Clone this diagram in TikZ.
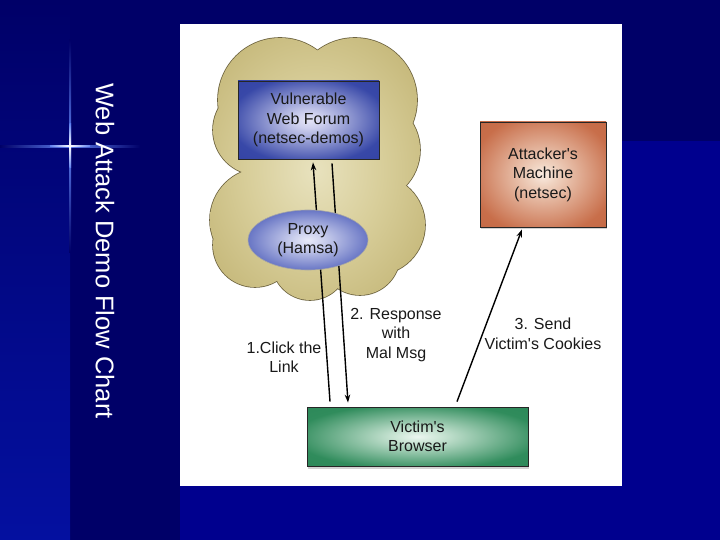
\documentclass[tikz,border=0pt]{standalone}
\usepackage{fontspec}
\setmainfont{Liberation Sans}
\usetikzlibrary{shapes.geometric,shadows,arrows.meta}
\definecolor{navy}{HTML}{000068}
\definecolor{navylow}{HTML}{00008E}
\definecolor{stripbot}{HTML}{0410A0}
\definecolor{glow}{HTML}{5F80F0}
\definecolor{cloudline}{HTML}{6E6440}
\pgfdeclareradialshading{cloudsh}{\pgfpoint{0bp}{0bp}}{color(0bp)=(rgb,255:red,232;green,226;blue,190); color(14bp)=(rgb,255:red,216;green,206;blue,154); color(30bp)=(rgb,255:red,194;green,180;blue,116); color(50bp)=(rgb,255:red,186;green,170;blue,104)}
\pgfdeclareradialshading{forumsh}{\pgfpoint{0bp}{0bp}}{color(0bp)=(rgb,255:red,228;green,228;blue,246); color(5bp)=(rgb,255:red,206;green,208;blue,238); color(28bp)=(rgb,255:red,56;green,72;blue,168); color(50bp)=(rgb,255:red,46;green,60;blue,160)}
\pgfdeclareradialshading{proxysh}{\pgfpoint{0bp}{0bp}}{color(0bp)=(rgb,255:red,232;green,234;blue,248); color(6bp)=(rgb,255:red,206;green,210;blue,238); color(30bp)=(rgb,255:red,78;green,94;blue,186); color(50bp)=(rgb,255:red,70;green,86;blue,180)}
\pgfdeclareradialshading{attsh}{\pgfpoint{0bp}{0bp}}{color(0bp)=(rgb,255:red,250;green,236;blue,226); color(5bp)=(rgb,255:red,240;green,212;blue,194); color(29bp)=(rgb,255:red,200;green,110;blue,74); color(50bp)=(rgb,255:red,190;green,98;blue,62)}
\pgfdeclareradialshading{leafsh}{\pgfpoint{0bp}{0bp}}{color(0bp)=(rgb,255:red,236;green,246;blue,240); color(5bp)=(rgb,255:red,204;green,230;blue,214); color(28bp)=(rgb,255:red,48;green,140;blue,92); color(50bp)=(rgb,255:red,38;green,130;blue,84)}
\def\cloudpuffs{280/100/62,355/100/62,368/150/52,375/225/50,262/220/52,258/130/45,255/245/42,310/262/38,360/255/40,315/180/70}

\begin{document}
\begin{tikzpicture}[x=1pt,y=-1pt,>={Stealth[length=8pt,width=5.5pt]},
  t/.style={font=\fontsize{16}{19.5}\selectfont,align=center,text=black!90},
  box/.style={t,draw=black!85,line width=0.8pt},
  shad/.style={drop shadow={opacity=0.35,shadow xshift=1pt,shadow yshift=-2.5pt}},
  a/.style={->,line width=1.4pt}]
\useasboundingbox (0,0) rectangle (720,540);
\fill[navy] (0,0) rectangle (720,540);
\shade[top color=navy,bottom color=stripbot] (0,0) rectangle (70,540);
\fill[navylow] (180,141) rectangle (720,540);
\shade[left color=navy,right color=navy,middle color=glow] (0,145.2) rectangle (140,147.2);
\shade[top color=navy,bottom color=navy,middle color=glow] (69.2,40) rectangle (71.2,252);
\shade[left color=glow,right color=glow,middle color=white] (50,145.4) rectangle (90,147);
\shade[top color=glow,bottom color=glow,middle color=white] (69.4,124) rectangle (71,168);
\node[rotate=-90,text=white,font=\fontsize{25.5}{30}\selectfont] (title) at (105,251) {Web Attack Demo Flow Chart};
\fill[white] (180,24) rectangle (622,486);

\foreach \cx/\cy/\r in \cloudpuffs
  \draw[cloudline,line width=1.6pt] (\cx,\cy) circle[radius=\r];
\begin{scope}
\clip \foreach \cx/\cy/\r in \cloudpuffs {(\cx,\cy) circle[radius=\r]};
\shade[shading=cloudsh] (195,25) rectangle (435,315);
\end{scope}

\node[box,shading=forumsh,minimum width=141pt,minimum height=78pt] (forum) at (308.5,120) {Vulnerable\\Web Forum\\(netsec-demos)};
\node[box,shad,shading=attsh,minimum width=126pt,minimum height=105pt] (attacker) at (543,174.5) {Attacker\textquotesingle s\\Machine\\(netsec)};
\node[box,shad,shading=leafsh,minimum width=221pt,minimum height=59pt] (browser) at (417.5,436.5) {Victim\textquotesingle s\\Browser};

\draw[a] ([shift={(-87.5,-5)}]browser.north) -- ([shift={(4.5,3)}]forum.south);
\draw[a] ([shift={(23.5,4)}]forum.south) -- ([shift={(-69.5,-4)}]browser.north);
\draw[a] ([shift={(39.5,-5)}]browser.north) -- ([shift={(-21,2)}]attacker.south);

\node[t,ellipse,draw=black!35,line width=0.6pt,shading=proxysh,minimum width=120pt,minimum height=60pt] (proxy) at (308,240) {Proxy\\(Hamsa)};

\node[t] (click) at (284,357) {1.Click the\\Link};
\node[t] (resp) at (396,335) {2. Response\\with\\Mal Msg};
\node[t] (send) at (543,334) {3. Send\\Victim\textquotesingle s Cookies};
\end{tikzpicture}
\end{document}
